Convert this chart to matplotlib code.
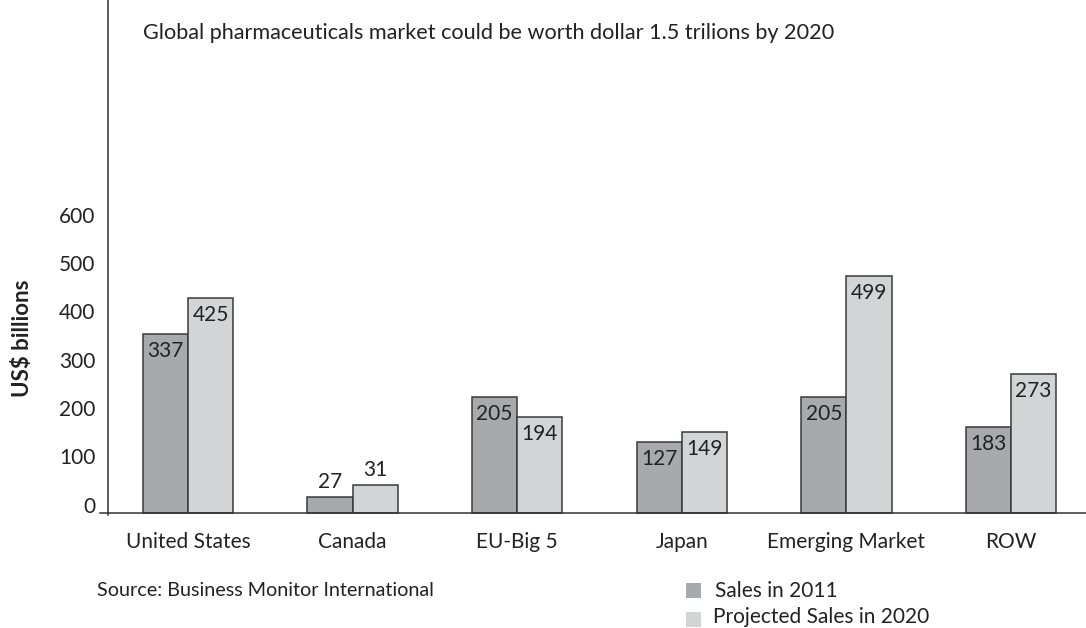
import matplotlib
matplotlib.use('Agg')
import matplotlib.pyplot as plt
import matplotlib.transforms as mtransforms
from matplotlib.patches import Rectangle
import numpy as np

plt.rcParams['font.family'] = ['Lato', 'DejaVu Sans']

categories = ['United States', 'Canada', 'EU-Big 5', 'Japan', 'Emerging Market', 'ROW']
# printed values on the bars
labels_2011 = [337, 27, 205, 127, 205, 183]
labels_2020 = [425, 31, 194, 149, 499, 273]
# bar heights as drawn against the axis (they don't match the printed values exactly)
bars_2011 = [370, 33, 239, 147, 239, 177]
bars_2020 = [444, 57, 199, 168, 489, 288]
yticks = [0, 100, 200, 300, 400, 500, 600]

dark = '#a8a9ac'
light = '#d3d4d6'
edge = '#3a3a3a'
txt = '#222222'

W, H = 1086, 628
fig = plt.figure(figsize=(W / 100, H / 100), dpi=100)
ax = fig.add_axes([100 / W, (H - 515) / H, 986 / W, 515 / H])

x = np.arange(len(categories))
bw = 0.275
ax.bar(x - bw / 2, bars_2011, bw, color=dark, edgecolor=edge, linewidth=1.1)
ax.bar(x + bw / 2, bars_2020, bw, color=light, edgecolor=edge, linewidth=1.1)

# value labels: inside the bar top, except the small Canada bars
for i in range(len(categories)):
    for xo, h, lab in [(x[i] - bw / 2, bars_2011[i], labels_2011[i]),
                       (x[i] + bw / 2, bars_2020[i], labels_2020[i])]:
        if h < 100:
            ax.annotate(str(lab), (xo, h), xytext=(0, 5), textcoords='offset pixels',
                        ha='center', va='bottom', fontsize=15, color=txt)
        else:
            ax.annotate(str(lab), (xo, h), xytext=(0, -17), textcoords='offset pixels',
                        ha='center', va='center', fontsize=15, color=txt)

ax.set_xlim(-0.5346, 5.4557)
ax.set_ylim(-4.76, 1060.8)

for s in ['top', 'right']:
    ax.spines[s].set_visible(False)
ax.spines['left'].set_position(('data', -0.4878))
ax.spines['bottom'].set_position(('data', 0))
for s in ['left', 'bottom']:
    ax.spines[s].set_color('#333333')
    ax.spines[s].set_linewidth(1.1)

ax.set_yticks(yticks)
ax.set_yticklabels([str(t) for t in yticks])
ax.tick_params(axis='y', length=0, pad=9, labelsize=15, labelcolor=txt)
offset = mtransforms.ScaledTranslation(0, 0.08, fig.dpi_scale_trans)
for lab in ax.get_yticklabels():
    lab.set_transform(lab.get_transform() + offset)

ax.set_xticks(x)
ax.set_xticklabels(categories)
ax.tick_params(axis='x', length=0, pad=14, labelsize=15, labelcolor=txt)

fig.text(23 / W, 1 - 338 / H, 'US$ billions', rotation=90, ha='center', va='center',
         fontsize=16, fontweight='bold', color=txt)
fig.text(143 / W, 1 - 33 / H, 'Global pharmaceuticals market could be worth dollar 1.5 trilions by 2020',
         ha='left', va='center', fontsize=15.6, color=txt)
fig.text(97 / W, 1 - 591 / H, 'Source: Business Monitor International',
         ha='left', va='center', fontsize=14.2, color=txt)

# legend
fig.patches.append(Rectangle((686 / W, 1 - 598 / H), 15 / W, 15 / H, transform=fig.transFigure,
                             facecolor=dark, edgecolor='none'))
fig.patches.append(Rectangle((686 / W, 1 - 627 / H), 15 / W, 15 / H, transform=fig.transFigure,
                             facecolor=light, edgecolor='none'))
fig.text(715 / W, 1 - 591 / H, 'Sales in 2011', ha='left', va='center', fontsize=15, color=txt)
fig.text(713 / W, 1 - 617 / H, 'Projected Sales in 2020', ha='left', va='center', fontsize=15, color=txt)

fig.savefig('out.png', dpi=100)
